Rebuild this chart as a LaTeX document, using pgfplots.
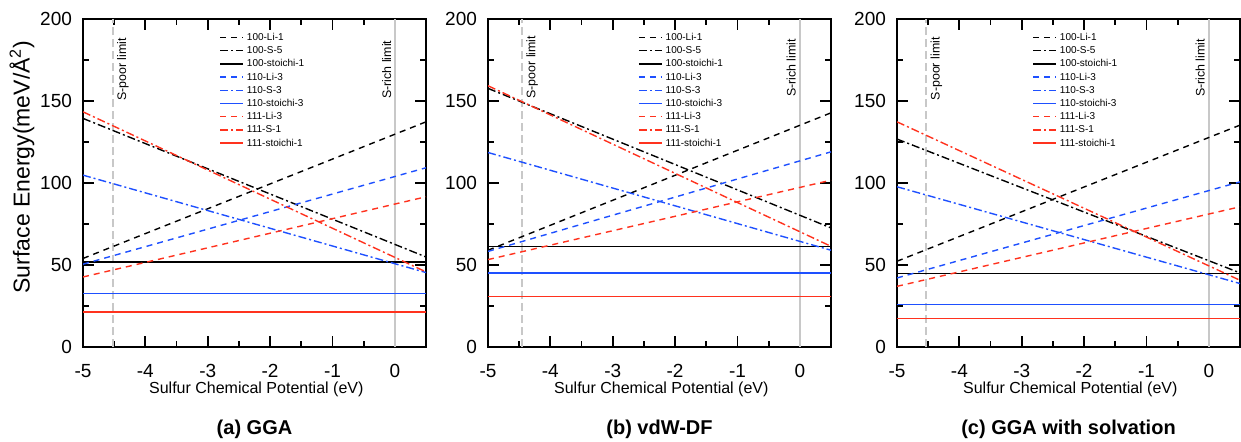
\documentclass[border=0pt]{standalone}
\usepackage{fontspec}
\setmainfont{Liberation Sans}
\usepackage{pgfplots}
\usepackage{pgfplotstable}
\pgfplotsset{compat=1.18}

\definecolor{sblue}{RGB}{30,80,255}
\definecolor{sred}{RGB}{255,50,30}
\definecolor{limgray}{RGB}{200,200,200}

% x = sulfur chemical potential, columns = surface energies (meV/A^2)
\pgfplotstableread{
x    Li100 S100  St100 Li110 S110  St110 Li111 S111  St111
-5   54.0  139.4 51.8  50.5  104.8 32.6  42.7  143.4 21.4
0.5  137.3 54.9  51.8  109.3 45.4  32.6  91.6  45.8  21.4
}\gga
\pgfplotstableread{
x    Li100 S100  St100 Li110 S110  St110 Li111 S111  St111
-5   59.0  157.7 61.4  58.3  118.6 45.2  53.3  159.3 30.9
0.5  142.8 72.6  61.4  119.0 59.0  45.2  101.7 61.4  30.9
}\vdw
\pgfplotstableread{
x    Li100 S100  St100 Li110 S110  St110 Li111 S111  St111
-5   52.3  126.8 44.8  42.1  97.7  26.0  37.0  137.3 17.3
0.5  135.3 45.2  44.8  100.7 38.7  26.0  85.5  40.7  17.3
}\solv

\pgfplotsset{
  panel/.style={
    scale only axis, width=171.5pt, height=164pt,
    xmin=-5, xmax=0.5, ymin=0, ymax=200,
    xtick={-5,-4,-3,-2,-1,0}, ytick={0,50,100,150,200},
    minor x tick num=1, minor y tick num=1,
    tick align=inside, major tick length=5.5pt, minor tick length=3pt,
    every tick/.style={black, line width=0.9pt},
    axis line style={line width=0.9pt},
    tick label style={font=\fontsize{9.5}{11}\selectfont},
    xticklabel style={yshift=-5pt},
    yticklabel style={xshift=-2pt},
    /pgf/number format/assume math mode=true,
    legend style={draw=none, fill=none, font=\fontsize{5}{6}\selectfont,
      anchor=north west, inner sep=0pt, row sep=1.6pt, column sep=1.5pt,
      nodes={inner sep=0pt, text height=4pt, text depth=1pt}},
    legend cell align=left,
    legend image code/.code={\draw[##1] (0pt,0pt) -- (11.5pt,0pt);},
    every axis plot/.append style={line width=0.7pt},
  },
  dsh/.style={dash pattern=on 3pt off 2.5pt},
  dsd/.style={dash pattern=on 4pt off 1.5pt on 1pt off 1.5pt},
}

\newcommand{\allseries}[1]{%
  \addplot[black,dsh] table[y=Li100]{#1};
  \addplot[black,dsd] table[y=S100]{#1};
  \addplot[black] table[y=St100]{#1};
  \addplot[sblue,dsh] table[y=Li110]{#1};
  \addplot[sblue,dsd] table[y=S110]{#1};
  \addplot[sblue] table[y=St110]{#1};
  \addplot[sred,dsh] table[y=Li111]{#1};
  \addplot[sred,dsd] table[y=S111]{#1};
  \addplot[sred] table[y=St111]{#1};
  \legend{100-Li-1,100-S-5,100-stoichi-1,110-Li-3,110-S-3,110-stoichi-3,111-Li-3,111-S-1,111-stoichi-1}
}
\newcommand{\slimits}[5]{%
  \addplot[limgray, line width=1pt, dash pattern=on 4pt off 2pt, forget plot] coordinates {(#1,0) (#1,200)};
  \addplot[limgray, line width=1pt, forget plot] coordinates {(0,0) (0,200)};
  \node[rotate=90, anchor=east, inner sep=0pt, font=\fontsize{6.2}{7}\selectfont] at (axis cs:#2,#3) {S-poor limit};
  \node[rotate=90, anchor=east, inner sep=0pt, font=\fontsize{6.2}{7}\selectfont] at (axis cs:#4,#5) {S-rich limit};
}
\newcommand{\bottomtext}[2]{%
  \node[font=\fontsize{8}{9}\selectfont] at ([xshift=0.9pt,yshift=-21pt]#1.south) {Sulfur Chemical Potential (eV)};
  \node[font=\fontsize{10}{12}\selectfont\bfseries] at ([yshift=-41pt]#1.south) {#2};
}

\begin{document}
\begin{tikzpicture}
\useasboundingbox (0pt,-47pt) rectangle (620.5pt,173.5pt);

\begin{axis}[panel, name=pa, at={(41.5pt,0pt)}, anchor=south west,
  legend style={at={(0.397,0.96)}}]
\slimits{-4.52}{-4.36}{188.5}{-0.13}{187}
\allseries{\gga}
\end{axis}

\begin{axis}[panel, name=pb, at={(244pt,0pt)}, anchor=south west,
  legend style={at={(0.437,0.96)}}]
\slimits{-4.45}{-4.29}{190}{-0.14}{188}
\allseries{\vdw}
\end{axis}

\begin{axis}[panel, name=pc, at={(448.5pt,0pt)}, anchor=south west,
  legend style={at={(0.394,0.96)}}]
\slimits{-4.53}{-4.37}{189}{-0.14}{188}
\allseries{\solv}
\end{axis}

\bottomtext{pa}{(a) GGA}
\bottomtext{pb}{(b) vdW-DF}
\bottomtext{pc}{(c) GGA with solvation}
\node[rotate=90, font=\fontsize{11.5}{13}\selectfont] at (11pt,90pt) {Surface Energy(meV/Å\textsuperscript{2})};
\end{tikzpicture}
\end{document}
